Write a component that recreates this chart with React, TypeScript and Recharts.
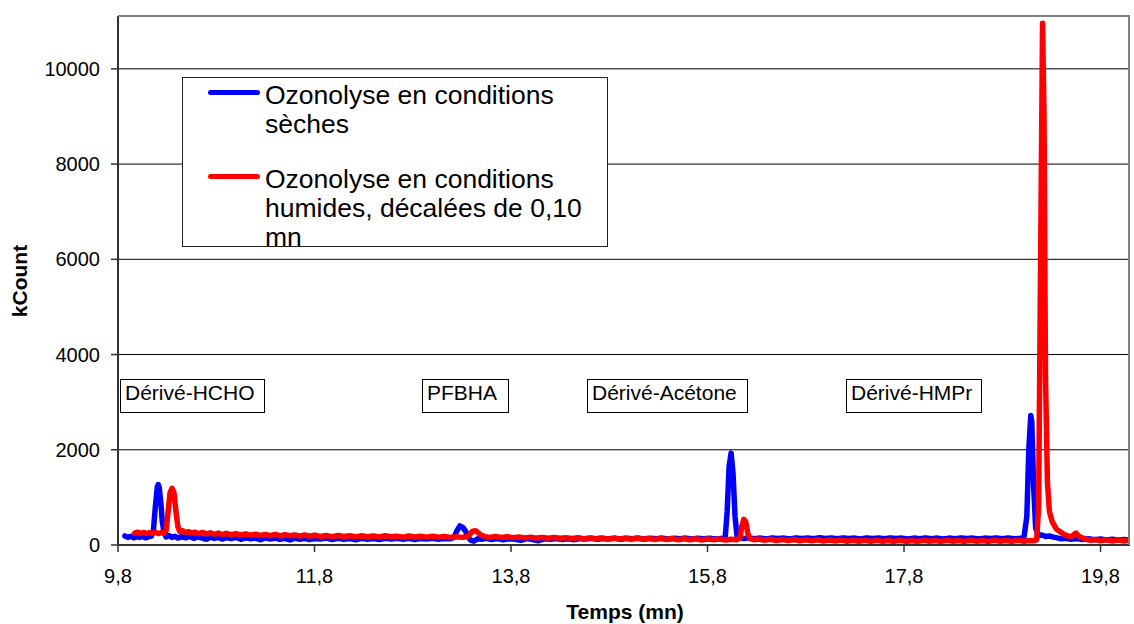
import React from "react";
import { LineChart, Line, XAxis, YAxis, CartesianGrid } from "recharts";

// Time (mn) / kCount pairs
const dryPoints: [number, number][] = [
  [9.87,190],[9.9,160],[9.93,185],[9.96,150],[9.99,175],[10.02,160],[10.05,180],[10.08,150],[10.11,170],[10.14,185],
  [10.16,300],[10.18,800],[10.2,1220],[10.21,1270],[10.22,1200],[10.24,800],[10.25,500],[10.27,250],[10.29,170],[10.32,200],
  [10.35,160],[10.38,185],[10.41,145],[10.45,175],[10.49,150],[10.53,180],[10.57,140],[10.61,170],[10.65,150],[10.7,120],
  [10.74,165],[10.78,140],[10.82,160],[10.86,125],[10.9,155],[10.95,135],[11.0,160],[11.05,120],[11.1,150],[11.15,130],
  [11.2,145],[11.25,110],[11.3,150],[11.35,125],[11.4,145],[11.45,120],[11.5,140],[11.55,105],[11.6,145],[11.65,120],
  [11.7,140],[11.75,115],[11.8,135],[11.86,125],[11.92,145],[11.98,115],[12.04,140],[12.1,120],[12.16,135],[12.22,110],
  [12.28,140],[12.34,120],[12.4,135],[12.46,115],[12.52,140],[12.58,125],[12.64,140],[12.7,120],[12.76,140],[12.82,115],
  [12.88,135],[12.94,125],[13.0,140],[13.06,120],[13.12,135],[13.18,130],[13.22,160],[13.25,300],[13.28,400],[13.31,370],
  [13.34,280],[13.36,180],[13.39,100],[13.42,80],[13.46,130],[13.5,120],[13.55,140],[13.6,115],[13.66,135],[13.72,110],
  [13.78,130],[13.84,120],[13.9,100],[13.96,135],[14.02,115],[14.08,90],[14.14,130],[14.2,120],[14.26,135],[14.32,115],
  [14.38,130],[14.44,110],[14.5,135],[14.56,125],[14.62,140],[14.68,120],[14.74,135],[14.8,125],[14.86,145],[14.92,120],
  [14.98,140],[15.04,130],[15.1,145],[15.16,120],[15.22,140],[15.28,130],[15.34,145],[15.4,125],[15.46,140],[15.52,130],
  [15.58,145],[15.64,125],[15.7,140],[15.76,130],[15.82,140],[15.88,125],[15.94,135],[15.98,160],[16.0,700],[16.02,1650],
  [16.04,1930],[16.06,1500],[16.08,600],[16.1,200],[16.13,150],[16.17,135],[16.22,150],[16.28,130],[16.34,145],[16.4,125],
  [16.46,150],[16.52,135],[16.58,145],[16.64,125],[16.7,150],[16.76,135],[16.82,145],[16.88,130],[16.94,155],[17.0,135],
  [17.06,145],[17.12,130],[17.18,150],[17.24,135],[17.3,145],[17.36,125],[17.42,150],[17.48,135],[17.54,145],[17.6,130],
  [17.66,150],[17.72,135],[17.78,145],[17.84,125],[17.9,145],[17.96,130],[18.02,150],[18.08,130],[18.14,145],[18.2,125],
  [18.26,145],[18.32,130],[18.38,150],[18.44,135],[18.5,145],[18.56,125],[18.62,145],[18.68,135],[18.74,150],[18.8,130],
  [18.86,145],[18.92,130],[18.98,140],[19.02,150],[19.05,600],[19.07,2000],[19.09,2720],[19.1,2600],[19.12,1200],[19.14,350],
  [19.17,200],[19.2,210],[19.24,180],[19.28,190],[19.32,165],[19.36,150],[19.4,130],[19.45,140],[19.5,120],[19.56,135],
  [19.62,115],[19.68,130],[19.74,110],[19.8,125],[19.86,105],[19.92,120],[19.98,100],[20.04,115],[20.08,105],
];

const humidPoints: [number, number][] = [
  [9.97,250],[10.0,270],[10.03,245],[10.06,265],[10.09,240],[10.12,260],[10.15,245],[10.18,270],[10.21,240],[10.24,260],
  [10.27,250],[10.29,300],[10.31,700],[10.33,1100],[10.35,1190],[10.37,1100],[10.39,700],[10.41,380],[10.43,280],[10.46,300],
  [10.49,260],[10.52,280],[10.55,250],[10.58,270],[10.62,240],[10.66,265],[10.7,235],[10.74,255],[10.78,225],[10.82,250],
  [10.86,220],[10.9,245],[10.95,215],[11.0,240],[11.05,210],[11.1,235],[11.15,205],[11.2,225],[11.25,200],[11.3,220],
  [11.35,195],[11.4,225],[11.45,190],[11.5,215],[11.55,195],[11.6,210],[11.65,185],[11.7,210],[11.75,185],[11.8,205],
  [11.86,180],[11.92,200],[11.98,175],[12.04,200],[12.1,180],[12.16,195],[12.22,170],[12.28,195],[12.34,175],[12.4,190],
  [12.46,170],[12.52,195],[12.58,175],[12.64,185],[12.7,165],[12.76,190],[12.82,170],[12.88,185],[12.94,165],[13.0,185],
  [13.06,165],[13.12,180],[13.18,160],[13.24,175],[13.3,160],[13.35,175],[13.38,220],[13.41,290],[13.44,300],[13.47,250],
  [13.5,200],[13.54,175],[13.58,160],[13.64,180],[13.7,160],[13.76,175],[13.82,155],[13.88,170],[13.94,150],[14.0,165],
  [14.06,145],[14.12,160],[14.18,140],[14.24,160],[14.3,140],[14.36,155],[14.42,135],[14.48,155],[14.54,130],[14.6,150],
  [14.66,130],[14.72,150],[14.78,125],[14.84,145],[14.9,125],[14.96,145],[15.02,120],[15.08,140],[15.14,120],[15.2,140],
  [15.26,115],[15.32,135],[15.38,115],[15.44,135],[15.5,110],[15.56,130],[15.62,110],[15.68,130],[15.74,105],[15.8,125],
  [15.86,110],[15.92,125],[15.98,105],[16.04,120],[16.1,110],[16.13,150],[16.15,400],[16.17,540],[16.19,480],[16.21,250],
  [16.23,140],[16.27,110],[16.32,125],[16.38,100],[16.44,120],[16.5,95],[16.56,115],[16.62,95],[16.68,115],[16.74,90],
  [16.8,110],[16.86,90],[16.92,110],[16.98,85],[17.04,105],[17.1,85],[17.16,105],[17.22,80],[17.28,100],[17.34,80],
  [17.4,100],[17.46,75],[17.52,100],[17.58,80],[17.64,95],[17.7,75],[17.76,100],[17.82,75],[17.88,95],[17.94,75],
  [18.0,100],[18.06,80],[18.12,95],[18.18,75],[18.24,100],[18.3,80],[18.36,95],[18.42,75],[18.48,100],[18.54,80],
  [18.6,95],[18.66,75],[18.72,100],[18.78,80],[18.84,95],[18.9,75],[18.96,100],[19.02,80],[19.08,95],[19.12,90],
  [19.15,110],[19.17,800],[19.19,6000],[19.21,10960],[19.225,9000],[19.24,3500],[19.26,1300],[19.28,700],[19.31,480],[19.35,340],
  [19.4,260],[19.45,200],[19.5,170],[19.53,220],[19.55,250],[19.57,200],[19.6,160],[19.63,140],[19.66,115],[19.7,100],
  [19.75,115],[19.8,90],[19.86,110],[19.92,85],[19.98,105],[20.04,85],[20.09,100],
];

const xTicks = [9.8, 11.8, 13.8, 15.8, 17.8, 19.8];
const yTicks = [0, 2000, 4000, 6000, 8000, 10000];

const seriesNames = [
  ["Ozonolyse en conditions", "sèches"],
  ["Ozonolyse en conditions", "humides, décalées de 0,10", "mn"],
];

const annotations = [
  { text: "Dérivé-HCHO", left: 120, width: 145 },
  { text: "PFBHA", left: 422, width: 87 },
  { text: "Dérivé-Acétone", left: 587, width: 161 },
  { text: "Dérivé-HMPr", left: 846, width: 136 },
];

const FONT = "'Liberation Sans', Arial, sans-serif";

const dryData = dryPoints.map(([t, v]) => ({ t, v }));
const humidData = humidPoints.map(([t, v]) => ({ t, v }));

export default function App() {
  return (
    <div style={{ position: "absolute", left: 0, top: 0, width: 1134, height: 624, background: "#fff", fontFamily: FONT }}>
      <LineChart width={1134} height={624} margin={{ top: 16, right: 4, left: 0, bottom: 0 }}>
        <CartesianGrid horizontal={true} vertical={false} stroke="#000" strokeWidth={1} />
        <XAxis
          type="number"
          dataKey="t"
          domain={[9.8, 20.1]}
          ticks={xTicks}
          tickFormatter={(v: number) => String(v).replace(".", ",")}
          height={79}
          tickSize={7}
          tickMargin={17}
          allowDataOverflow
          axisLine={{ stroke: "#333", strokeWidth: 2 }}
          tickLine={{ stroke: "#333", strokeWidth: 1.5 }}
          tick={{ fill: "#000", fontSize: 20, fontFamily: FONT }}
        />
        <YAxis
          type="number"
          domain={[0, 11110]}
          ticks={yTicks}
          width={118}
          tickSize={7}
          tickMargin={11}
          axisLine={{ stroke: "#333", strokeWidth: 2 }}
          tickLine={{ stroke: "#333", strokeWidth: 1.5 }}
          tick={{ fill: "#000", fontSize: 20, fontFamily: FONT }}
        />
        <Line data={dryData} dataKey="v" type="linear" stroke="#0000FF" strokeWidth={5.5} dot={false}
          strokeLinejoin="round" strokeLinecap="round" isAnimationActive={false} name="sèches" />
        <Line data={humidData} dataKey="v" type="linear" stroke="#FF0000" strokeWidth={5.5} dot={false}
          strokeLinejoin="round" strokeLinecap="round" isAnimationActive={false} name="humides" />
      </LineChart>

      {/* plot area border top/right */}
      <div style={{ position: "absolute", left: 118, top: 15, width: 1012, height: 530, borderTop: "2px solid #808080", borderRight: "2px solid #808080", boxSizing: "border-box", pointerEvents: "none" }} />

      {/* axis titles */}
      <div style={{ position: "absolute", left: 525, top: 600, width: 200, textAlign: "center", fontSize: 21, lineHeight: "24px", fontWeight: "bold" }}>Temps (mn)</div>
      <div style={{ position: "absolute", left: -30.5, top: 269, width: 100, height: 24, textAlign: "center", fontSize: 21, lineHeight: "24px", fontWeight: "bold", transform: "rotate(-90deg)" }}>kCount</div>

      {/* legend */}
      <div style={{ position: "absolute", left: 182, top: 77, width: 426, height: 170, border: "1px solid #222", boxSizing: "border-box", background: "#fff" }} />
      <div style={{ position: "absolute", left: 208, top: 90, width: 52, height: 5, borderRadius: 2.5, background: "#0000FF" }} />
      <div style={{ position: "absolute", left: 208, top: 173.5, width: 52, height: 5, borderRadius: 2.5, background: "#FF0000" }} />
      <div style={{ position: "absolute", left: 265, top: 81, fontSize: 26.5, lineHeight: "28.5px", whiteSpace: "nowrap" }}>
        {seriesNames[0].map((s, i) => <div key={i}>{s}</div>)}
      </div>
      <div style={{ position: "absolute", left: 265, top: 165, fontSize: 26.5, lineHeight: "29px", whiteSpace: "nowrap" }}>
        {seriesNames[1].map((s, i) => <div key={i}>{s}</div>)}
      </div>
      <div style={{ position: "absolute", left: 182, top: 246, width: 426, height: 1, background: "#222" }} />

      {/* peak annotations */}
      {annotations.map((a) => (
        <div key={a.text} style={{ position: "absolute", left: a.left, top: 379, width: a.width, height: 34, border: "1px solid #000", boxSizing: "border-box", background: "#fff", fontSize: 21, lineHeight: "24px", paddingTop: 1, paddingLeft: 4, whiteSpace: "nowrap" }}>
          {a.text}
        </div>
      ))}
    </div>
  );
}
